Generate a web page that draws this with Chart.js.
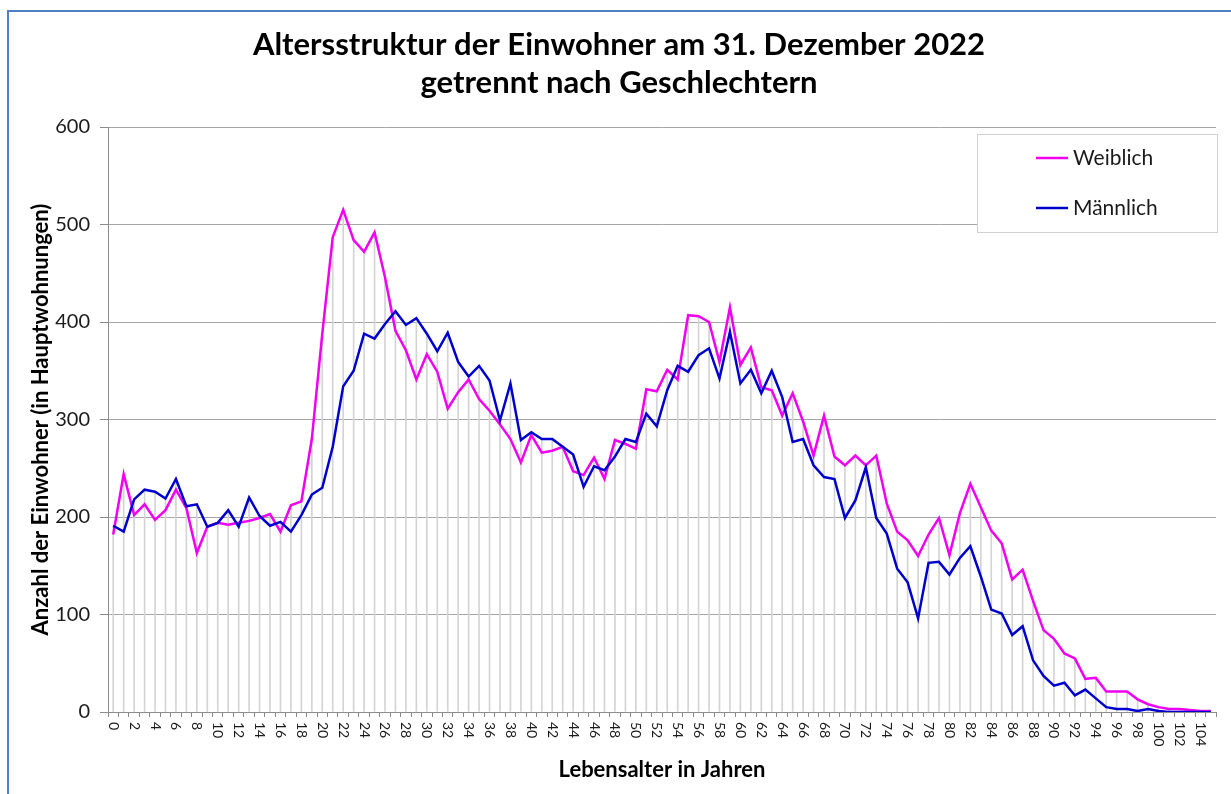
<!DOCTYPE html>
<html>
<head>
<meta charset="utf-8">
<script src="https://cdn.jsdelivr.net/npm/chart.js"></script>
<style>
  body { margin: 0; background: #fff; }
  #frame {
    position: absolute; left: 7px; top: 10px; width: 1240px; height: 800px;
    border-left: 2px solid #4f7fc4; border-top: 2px solid #4f7fc4;
  }
  #chart { position: absolute; left: 0; top: 0; }
</style>
</head>
<body>
<div id="frame"></div>
<canvas id="chart" width="1231" height="794"></canvas>
<script>
// Lebensalter 0 bis 105
const ages = [
  0, 1, 2, 3, 4, 5, 6, 7, 8, 9, 10, 11, 12, 13, 14, 15, 16, 17, 18, 19,
  20, 21, 22, 23, 24, 25, 26, 27, 28, 29, 30, 31, 32, 33, 34, 35, 36, 37, 38, 39,
  40, 41, 42, 43, 44, 45, 46, 47, 48, 49, 50, 51, 52, 53, 54, 55, 56, 57, 58, 59,
  60, 61, 62, 63, 64, 65, 66, 67, 68, 69, 70, 71, 72, 73, 74, 75, 76, 77, 78, 79,
  80, 81, 82, 83, 84, 85, 86, 87, 88, 89, 90, 91, 92, 93, 94, 95, 96, 97, 98, 99,
  100, 101, 102, 103, 104, 105
];

const weiblich = [
  182, 244, 202, 213, 197, 207, 228, 209, 163, 190, 194, 192, 194, 196, 199, 203, 185, 212, 216, 280,
  388, 487, 515, 484, 472, 492, 446, 391, 371, 341, 367, 349, 311, 328, 341, 321, 309, 295, 280, 256,
  284, 266, 268, 272, 247, 243, 261, 239, 279, 275, 270, 331, 329, 351, 341, 407, 406, 400, 359, 415,
  356, 374, 333, 330, 304, 327, 298, 263, 304, 262, 253, 263, 253, 263, 214, 185, 176, 160, 182, 199,
  161, 204, 234, 210, 186, 173, 136, 146, 114, 84, 75, 60, 55, 34, 35, 21, 21, 21, 13, 8,
  5, 3, 3, 2, 1, 1
];

const maennlich = [
  191, 185, 218, 228, 226, 219, 239, 211, 213, 190, 194, 207, 190, 220, 201, 191, 195, 185, 202, 223,
  230, 272, 334, 350, 388, 383, 398, 411, 397, 404, 388, 370, 389, 359, 344, 355, 340, 299, 337, 279,
  287, 280, 280, 272, 264, 231, 252, 248, 262, 280, 277, 306, 293, 330, 355, 349, 366, 373, 342, 390,
  337, 351, 327, 350, 323, 277, 280, 253, 241, 239, 199, 217, 251, 199, 183, 147, 133, 96, 153, 154,
  141, 158, 170, 139, 105, 101, 79, 88, 53, 37, 27, 30, 17, 23, 14, 5, 3, 3, 1, 3,
  1, 0, 0, 0, 0, 0
];

const yMin = 0;
const yMax = 600;
const yStep = 100;

const titleLines = ["Altersstruktur der Einwohner am 31. Dezember 2022", "getrennt nach Geschlechtern"];

// Lotlinien von jedem Punkt bis zur Achse
const dropLines = weiblich.map((w, i) => Math.max(w, maennlich[i]));

Chart.defaults.font.family = "Lato, 'DejaVu Sans', sans-serif";
Chart.defaults.color = "#000";

// x-Beschriftung im Uhrzeigersinn gedreht, jede zweite Altersstufe
const xLabelPlugin = {
  id: "xLabels",
  afterDraw(chart) {
    const scale = chart.scales.x;
    const ctx = chart.ctx;
    ctx.save();
    ctx.font = "14px Lato";
    ctx.fillStyle = "#1a1a1a";
    ctx.textAlign = "left";
    ctx.textBaseline = "middle";
    ages.forEach((age, i) => {
      if (age % 2 !== 0) return;
      const x = scale.getPixelForTick(i);
      ctx.save();
      ctx.translate(x, scale.top + 10);
      ctx.rotate(Math.PI / 2);
      ctx.fillText(String(age), 0, 0);
      ctx.restore();
    });
    ctx.restore();
  }
};

// Legende im Diagrammbereich oben rechts
const boxLegendPlugin = {
  id: "boxLegend",
  afterDraw(chart) {
    const ctx = chart.ctx;
    const area = chart.chartArea;
    const w = 241, h = 99;
    const left = area.right + 2 - w;
    const top = area.top + 7;
    ctx.save();
    ctx.fillStyle = "#fff";
    ctx.fillRect(left, top, w, h);
    ctx.strokeStyle = "#d0d0d0";
    ctx.lineWidth = 1;
    ctx.strokeRect(left + 0.5, top + 0.5, w - 1, h - 1);
    ctx.font = "21px Lato";
    ctx.textBaseline = "middle";
    ctx.textAlign = "left";
    const items = chart.data.datasets.filter(d => d.type !== "bar");
    items.forEach((ds, k) => {
      const y = top + 24 + k * 50;
      ctx.strokeStyle = ds.borderColor;
      ctx.lineWidth = 2.5;
      ctx.beginPath();
      ctx.moveTo(left + 59, y);
      ctx.lineTo(left + 91, y);
      ctx.stroke();
      ctx.fillStyle = "#1a1a1a";
      ctx.fillText(ds.label, left + 96, y);
    });
    ctx.restore();
  }
};

new Chart(document.getElementById("chart"), {
  type: "line",
  data: {
    labels: ages,
    datasets: [
      {
        label: "Weiblich",
        data: weiblich,
        borderColor: "#f000f0",
        borderWidth: 2.5,
        pointRadius: 0,
        tension: 0,
        order: 2
      },
      {
        label: "Männlich",
        data: maennlich,
        borderColor: "#0000cc",
        borderWidth: 2.5,
        pointRadius: 0,
        tension: 0,
        order: 1
      },
      {
        type: "bar",
        label: "Lot",
        data: dropLines,
        backgroundColor: "#d4d4d4",
        barThickness: 1,
        order: 3
      }
    ]
  },
  options: {
    responsive: false,
    animation: false,
    layout: {
      padding: { left: 22, right: 15, top: 0, bottom: 0 }
    },
    plugins: {
      legend: { display: false },
      tooltip: { enabled: false },
      title: {
        display: true,
        text: titleLines,
        font: { size: 31, weight: "bold", lineHeight: 38 / 31 },
        color: "#000",
        padding: { top: 26, bottom: 25 }
      }
    },
    scales: {
      x: {
        type: "category",
        offset: true,
        afterFit(scale) { scale.height = 82; },
        grid: {
          offset: true,
          drawOnChartArea: false,
          drawTicks: true,
          tickLength: 5,
          tickColor: "#8c8c8c"
        },
        border: { color: "#8c8c8c" },
        ticks: { display: false, autoSkip: false },
        title: {
          display: true,
          text: "Lebensalter in Jahren",
          font: { size: 22, weight: "bold" },
          padding: { top: 0, bottom: 11 }
        }
      },
      y: {
        min: yMin,
        max: yMax,
        afterFit(scale) { scale.width = 86; },
        ticks: {
          stepSize: yStep,
          padding: 10,
          color: "#1a1a1a",
          font: { size: 20 }
        },
        grid: {
          color: "#a6a6a6",
          tickLength: 8,
          tickColor: "#8c8c8c"
        },
        border: { color: "#8c8c8c" },
        title: {
          display: true,
          text: "Anzahl der Einwohner (in Hauptwohnungen)",
          font: { size: 22, weight: "bold" },
          padding: { top: 6, bottom: 0 }
        }
      }
    }
  },
  plugins: [xLabelPlugin, boxLegendPlugin]
});
</script>
</body>
</html>
